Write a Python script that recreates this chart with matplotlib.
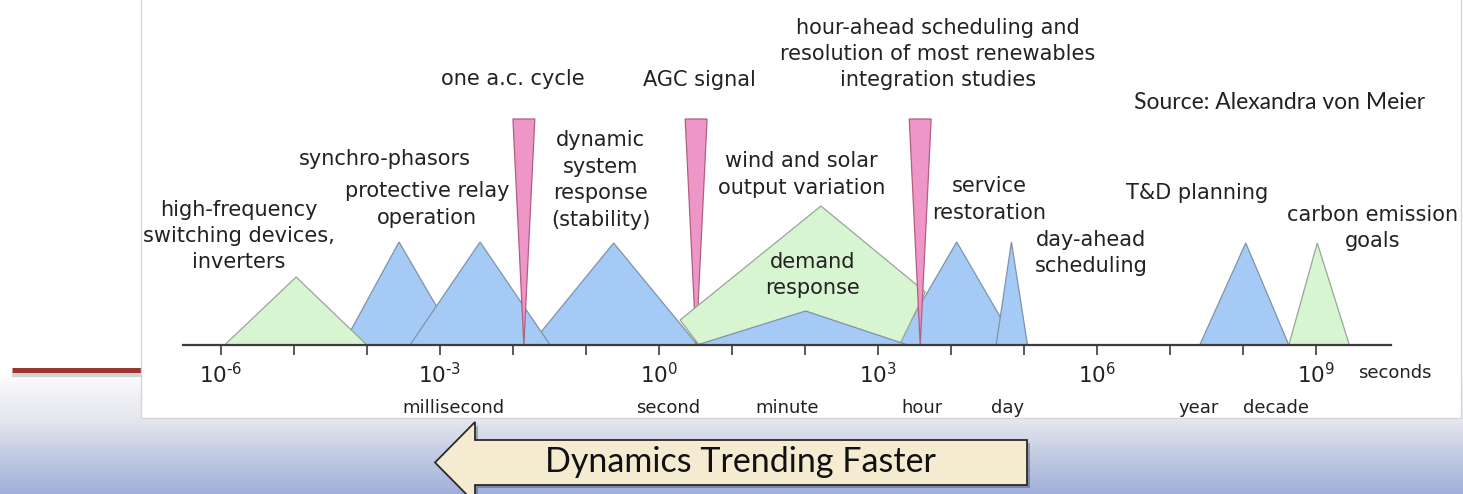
import numpy as np
import matplotlib.pyplot as plt
from matplotlib.patches import Polygon, Rectangle
from matplotlib.colors import to_rgb

# all time positions are log10(seconds); heights are relative bar heights
blue_left = [-4.33, -3.41, -1.76, 0.52, 3.26, 4.62, 7.41]
blue_peak = [-3.56, -2.45, -0.62, 2.01, 4.08, 4.83, 8.04]
blue_right = [-2.74, -1.49, 0.53, 3.41, 4.90, 5.05, 8.63]
blue_height = [103, 103, 102, 34, 103, 103, 102]

green_left = [-5.95, 8.63]
green_peak = [-4.97, 9.02]
green_right = [-4.00, 9.46]
green_height = [68, 102]

# demand response band
band_x = [0.29, 2.22, 3.65, 3.31, 0.54]
band_y = [25, 139, 53, 2, 1]

spike_center = [-1.85, 0.51, 3.58]
spike_halfwidth = 0.15
spike_height = 226

label_texts = [
    'high-frequency\nswitching devices,\ninverters',
    'synchro-phasors',
    'protective relay\noperation',
    'one a.c. cycle',
    'dynamic\nsystem\nresponse\n(stability)',
    'AGC signal',
    'hour-ahead scheduling and\nresolution of most renewables\nintegration studies',
    'wind and solar\noutput variation',
    'demand\nresponse',
    'service\nrestoration',
    'day-ahead\nscheduling',
    'T&D planning',
    'carbon emission\ngoals',
]
label_x = [-5.76, -3.75, -3.18, -2.0, -0.80, 0.56, 3.82, 1.95, 2.10, 4.53, 5.92, 7.38, 9.78]
label_y = [109, 186, 140.5, 266, 165, 265, 291, 170.5, 70, 145.5, 92, 152, 117]

tick_exp = list(range(-6, 10))
unit_names = ['millisecond', 'second', 'minute', 'hour', 'day', 'year', 'decade']
unit_x = [-2.81, 0.13, 1.75, 3.60, 4.78, 7.40, 8.45]


def sec(e):
    return 10.0 ** np.asarray(e, dtype=float)


def tick_label(e):
    if e % 3:
        return ''
    if e < 0:
        return r'$10^{\text{-}%d}$' % -e
    return '$10^{%d}$' % e


W, H = 1463, 494
fig = plt.figure(figsize=(W / 100, H / 100), dpi=100)
fig.patch.set_facecolor('white')

# ---- slide background (pixel coordinates) ----
bg = fig.add_axes([0, 0, 1, 1])
bg.set_xlim(0, W)
bg.set_ylim(H, 0)
bg.axis('off')

stop_y = [372, 395, 420, 450, 494]
stop_c = np.array([to_rgb(c) for c in ['#ffffff', '#f1f1f4', '#e5e7ee', '#c8cfe4', '#9fb0da']])
rows = np.linspace(372, 494, 200)
grad = np.stack([np.interp(rows, stop_y, stop_c[:, k]) for k in range(3)], axis=1)
bg.imshow(grad[:, None, :], extent=[0, W, 494, 372], aspect='auto', zorder=0)

# red rule on the left
bg.plot([14, 150], [374.5, 374.5], color='#777777', alpha=0.3, lw=3, zorder=1)
bg.plot([12, 150], [370, 370], color='#9c3431', lw=3.6, solid_capstyle='butt', zorder=2)

# white chart panel
bg.add_patch(Rectangle((141, -2), 1320, 420, facecolor='white', edgecolor='#d5d5d5', lw=1, zorder=3))

# arrow
arrow_pts = np.array([(435, 462.5), (475, 422), (475, 440), (1027, 440),
                      (1027, 485), (475, 485), (475, 503)])
bg.add_patch(Polygon(arrow_pts + 3, closed=True, facecolor='black', alpha=0.25,
                     edgecolor='none', zorder=4))
bg.add_patch(Polygon(arrow_pts, closed=True, facecolor='#f4ebd1', edgecolor='#2b2b2b',
                     lw=1.3, zorder=5))
bg.text(740, 462, 'Dynamics Trending Faster', family='Lato', fontsize=24.5,
        color='#111111', ha='center', va='center', zorder=6)

fig.text(1279.5 / W, 1 - 102 / H, 'Source: Alexandra von Meier', family='Lato',
         fontsize=16.5, color='#222222', ha='center', va='center')

# ---- main time-scale axis ----
ax = fig.add_axes([183 / W, 149 / H, 1208 / W, 345 / H])
ax.patch.set_alpha(0)
ax.set_xscale('log')
ax.set_xlim(sec(-6.52), sec(10.03))
ax.set_ylim(0, 345)
for s in ['top', 'left', 'right']:
    ax.spines[s].set_visible(False)
ax.spines['bottom'].set_color('#3c3c3c')
ax.spines['bottom'].set_linewidth(1.6)
ax.spines['bottom'].set_zorder(10)
ax.set_yticks([])

ax.set_xticks(sec(tick_exp))
ax.set_xticklabels([tick_label(e) for e in tick_exp])
ax.xaxis.set_minor_locator(plt.NullLocator())
ax.tick_params(axis='x', direction='out', length=7, width=1.2, color='#3c3c3c',
               labelsize=15.5, labelcolor='#222222', pad=5)

blue_fc, blue_ec = '#a4caf5', '#7f93a9'
green_fc, green_ec = '#d6f5d0', '#9aa59a'
pink_fc, pink_ec = '#ee96c8', '#b0607f'

blue_layer = [2, 3, 2, 4, 2, 3, 2]
for l, p, r, h, z in zip(blue_left, blue_peak, blue_right, blue_height, blue_layer):
    ax.fill(sec([l, p, r]), [0, h, 0], fc=blue_fc, ec=blue_ec, lw=0.9, zorder=z)

for l, p, r, h in zip(green_left, green_peak, green_right, green_height):
    ax.fill(sec([l, p, r]), [0, h, 0], fc=green_fc, ec=green_ec, lw=0.9, zorder=3)

ax.fill(sec(band_x), band_y, fc=green_fc, ec=green_ec, lw=0.9, zorder=3)

spike_layer = [5, 2.5, 5]
for c, z in zip(spike_center, spike_layer):
    ax.fill(sec([c - spike_halfwidth, c + spike_halfwidth, c]),
            [spike_height, spike_height, 0], fc=pink_fc, ec=pink_ec, lw=0.9, zorder=z)

for t, x, y in zip(label_texts, label_x, label_y):
    ax.text(sec(x), y, t, ha='center', va='center', fontsize=15, linespacing=1.4,
            color='#222222', zorder=8)

for t, x in zip(unit_names, unit_x):
    ax.text(sec(x), -63, t, ha='center', va='center', fontsize=13, color='#222222')
ax.text(sec(10.08), -28, 'seconds', ha='center', va='center', fontsize=13, color='#222222')

fig.savefig('out.png', dpi=100)
